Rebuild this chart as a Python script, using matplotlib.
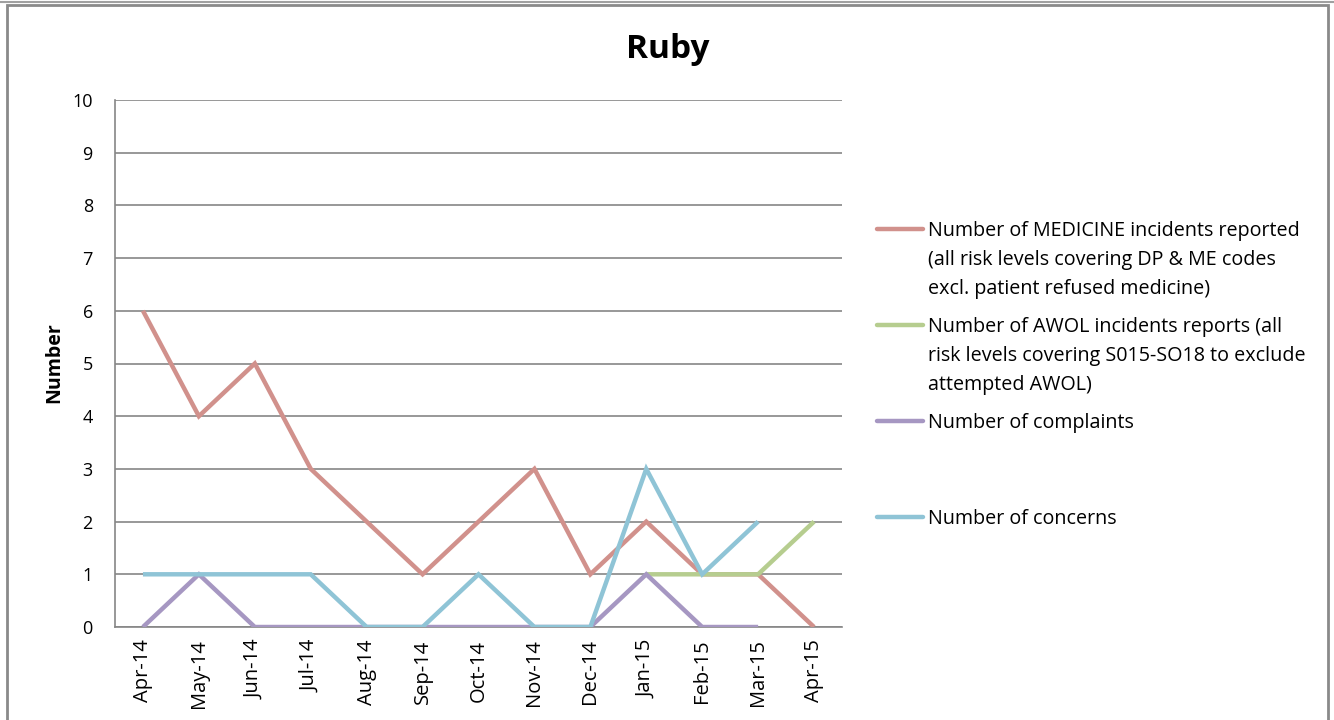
import numpy as np
import matplotlib
matplotlib.use("Agg")
import matplotlib.pyplot as plt
from matplotlib.lines import Line2D
from matplotlib.patches import Rectangle

months = ["Apr-14", "May-14", "Jun-14", "Jul-14", "Aug-14", "Sep-14", "Oct-14",
          "Nov-14", "Dec-14", "Jan-15", "Feb-15", "Mar-15", "Apr-15"]
nan = np.nan
medicine = [6, 4, 5, 3, 2, 1, 2, 3, 1, 2, 1, 1, 0]
awol = [nan, nan, nan, nan, nan, nan, nan, nan, nan, 1, 1, 1, 2]
complaints = [0, 1, 0, 0, 0, 0, 0, 0, 0, 1, 0, 0, nan]
concerns = [1, 1, 1, 1, 0, 0, 1, 0, 0, 3, 1, 2, nan]

labels = [
    "Number of MEDICINE incidents reported\n(all risk levels covering DP & ME codes\nexcl. patient refused medicine)",
    "Number of AWOL incidents reports (all\nrisk levels covering S015-SO18 to exclude\nattempted AWOL)",
    "Number of complaints",
    "Number of concerns",
]
colors = ["#D1918C", "#B6CD8F", "#A697C2", "#8FC4D6"]
series = [medicine, awol, complaints, concerns]

plt.rcParams['font.family'] = ['Open Sans', 'DejaVu Sans']
W, H = 1334, 720
fig = plt.figure(figsize=(W / 100, H / 100), dpi=100)
ax = fig.add_axes([115 / W, 1 - 627 / H, (842 - 115) / W, (627 - 100) / H])

x = np.arange(len(months))
for s, c in zip(series, colors):
    ax.plot(x, s, color=c, lw=3.2, solid_capstyle='butt', solid_joinstyle='miter', zorder=3)

ax.set_xlim(-0.5, len(months) - 0.5)
ax.set_ylim(0, 10)
ax.set_yticks(range(0, 11))
ax.set_xticks(x)
ax.set_xticklabels(months, rotation=90, fontsize=14.5)
ax.tick_params(axis='y', labelsize=13, length=0, pad=16)
ax.tick_params(axis='x', length=0, pad=9)
ax.grid(axis='y', color='#868686', lw=1.2, zorder=1)
for sp in ['top', 'right']:
    ax.spines[sp].set_visible(False)
for sp in ['left', 'bottom']:
    ax.spines[sp].set_color('#868686')
    ax.spines[sp].set_linewidth(1.2)

fig.text(54 / W, 1 - 363 / H, "Number", rotation=90, ha='center', va='center',
         fontsize=14, fontweight='bold')
fig.text(668 / W, 1 - 50 / H, "Ruby", ha='center', va='center', fontsize=24, fontweight='bold')

# legend
for i, (lab, c) in enumerate(zip(labels, colors)):
    yp = 229 + 96 * i
    fig.add_artist(Line2D([877 / W, 923 / W], [1 - yp / H, 1 - yp / H], color=c, lw=3.2,
                          solid_capstyle='round'))
    fig.text(928 / W, 1 - (yp - 8) / H, lab, ha='left', va='top', fontsize=14.2,
             linespacing=1.6)

# frame
fig.add_artist(Rectangle((7 / W, -0.05), (1328 - 7) / W, 1 - 5 / H + 0.05,
                         transform=fig.transFigure, fill=False, ec='#8A8A8A', lw=2))
fig.add_artist(Line2D([0, 1], [1 - 2 / H, 1 - 2 / H], color='#A0A0A0', lw=1.5))

fig.savefig("out.png", dpi=100)
